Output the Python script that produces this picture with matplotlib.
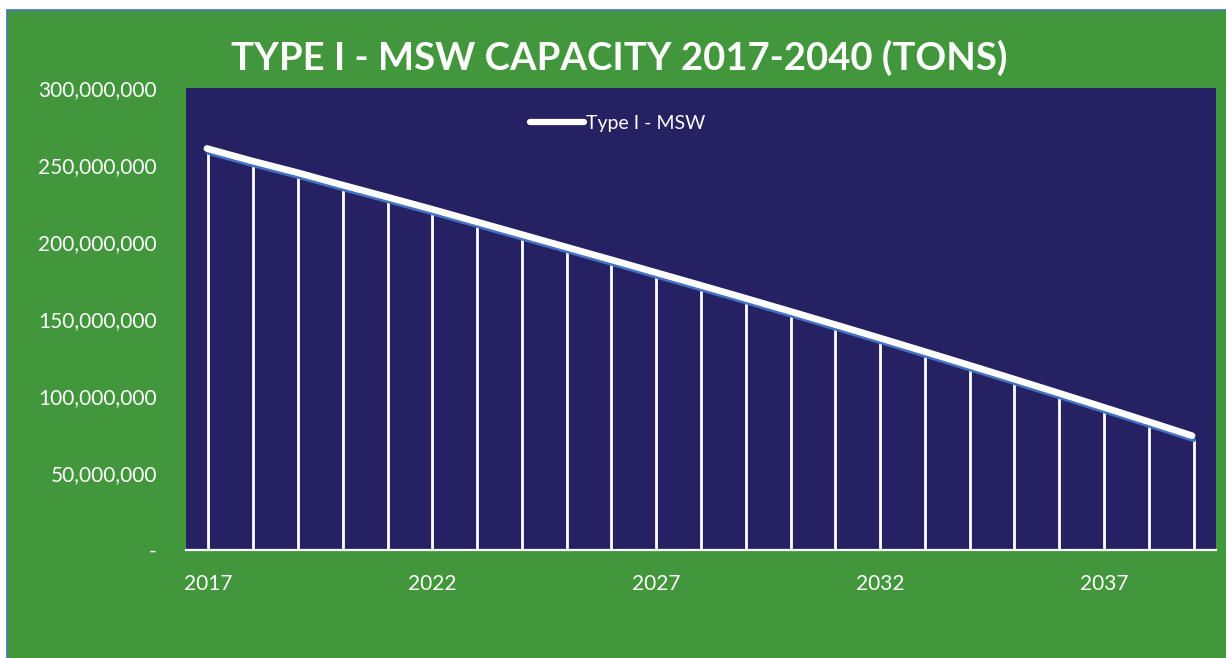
import matplotlib
matplotlib.use("Agg")
import matplotlib.pyplot as plt
from matplotlib.patches import Rectangle
from matplotlib.lines import Line2D
from matplotlib.ticker import FuncFormatter, FixedLocator
import matplotlib.transforms as mtransforms

# ---- data ----
years = list(range(2017, 2040))
capacity = [258.0e6, 250.0e6, 242.5e6, 234.5e6, 226.7e6, 218.8e6, 210.6e6, 202.4e6,
            194.2e6, 186.0e6, 177.7e6, 169.4e6, 161.0e6, 152.5e6, 143.9e6, 135.2e6,
            126.4e6, 117.5e6, 108.5e6, 99.4e6, 90.2e6, 80.9e6, 71.5e6]
xtick_years = [2017, 2022, 2027, 2032, 2037]
ytick_values = [0, 50e6, 100e6, 150e6, 200e6, 250e6, 300e6]
title = "TYPE I - MSW CAPACITY 2017-2040 (TONS)"
series_name = "Type I - MSW"

GREEN = "#42963B"
NAVY = "#262162"
BLUE = "#4472C4"
W, H = 1226, 658

plt.rcParams['font.family'] = ['Lato', 'DejaVu Sans']

fig = plt.figure(figsize=(W / 100, H / 100), dpi=100)
fig.patch.set_facecolor("white")
fig.add_artist(Rectangle((7 / W, -0.01), 1.02 - 7 / W, 1.01 - 9.5 / H,
                         transform=fig.transFigure, facecolor=GREEN,
                         edgecolor=BLUE, linewidth=1.2, zorder=0))

ax = fig.add_axes([186 / W, 1 - 550 / H, (1216 - 186) / W, (550 - 88) / H])
ax.set_facecolor(NAVY)
ax.set_zorder(1)

# drop lines
ax.vlines(years, 0, capacity, colors="white", linewidth=2.0, zorder=2)
# data line (blue) and white offset highlight line
ax.plot(years, capacity, color=BLUE, linewidth=3.2, solid_capstyle="round", zorder=3)
off = mtransforms.offset_copy(ax.transData, fig=fig, x=-1.5, y=4.2, units="dots")
ax.plot(years, capacity, color="white", linewidth=4.8, solid_capstyle="round",
        transform=off, zorder=4)

ax.set_xlim(2016.5, 2039.5)
ax.set_ylim(0, 300e6)
ax.xaxis.set_major_locator(FixedLocator(xtick_years))
ax.yaxis.set_major_locator(FixedLocator(ytick_values))
ax.yaxis.set_major_formatter(FuncFormatter(lambda v, p: "-" if v == 0 else f"{v:,.0f}"))
ax.tick_params(axis="y", length=0, pad=21, labelsize=15, labelcolor="white")
ax.tick_params(axis="x", length=0, pad=17, labelsize=15, labelcolor="white")

for s in ["top", "right", "left"]:
    ax.spines[s].set_visible(False)
ax.spines["bottom"].set_color("white")
ax.spines["bottom"].set_linewidth(1.6)
ax.spines["bottom"].set_zorder(5)

# legend
handle = Line2D([0], [0], color="white", linewidth=4.5, solid_capstyle="round")
leg = fig.legend([handle], [series_name], loc="center left",
                 bbox_to_anchor=(530 / W, 1 - 123 / H), frameon=False,
                 borderpad=0, borderaxespad=0, handlelength=2.8, handletextpad=0.1,
                 fontsize=14, labelcolor="white")
leg.set_zorder(10)

fig.text(619 / W, 1 - 58 / H, title, ha="center", va="center", color="white",
         fontsize=27.5, fontweight="bold")

fig.savefig("out.png", dpi=100, facecolor=fig.get_facecolor())
